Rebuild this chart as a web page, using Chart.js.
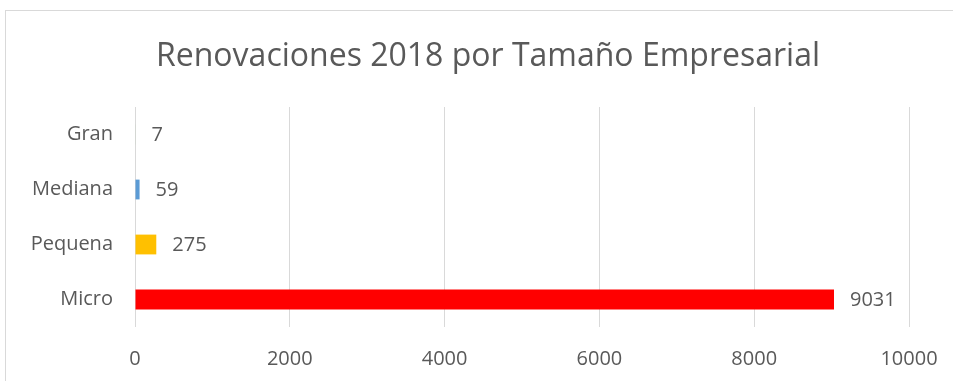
<!DOCTYPE html>
<html>
<head>
<meta charset="utf-8">
<script src="https://cdn.jsdelivr.net/npm/chart.js@4"></script>
<style>
  html, body { margin: 0; padding: 0; background: #fff; }
  #wrap { position: relative; width: 953px; height: 381px; overflow: hidden; }
  #frame { position: absolute; left: 5px; top: 10px; width: 960px; height: 400px; border: 1px solid #d9d9d9; box-sizing: border-box; }
  canvas { position: absolute; left: 0; top: 0; }
</style>
</head>
<body>
<div id="wrap">
  <div id="frame"></div>
  <canvas id="chart" width="953" height="381"></canvas>
</div>
<script>
// datos
const categorias = ['Gran', 'Mediana', 'Pequena', 'Micro'];
const renovaciones = [7, 59, 275, 9031];
const colores = ['#70AD47', '#5B9BD5', '#FFC000', '#FF0000'];
const titulo = 'Renovaciones 2018 por Tamaño Empresarial';

const fuente = "'Open Sans', 'Liberation Sans', sans-serif";
const gris = '#595959';

// titulo centrado sobre el marco completo, no solo sobre el area del grafico
const tituloPlugin = {
  id: 'tituloPlugin',
  afterDraw(chart) {
    const ctx = chart.ctx;
    ctx.save();
    ctx.font = '32px ' + fuente;
    ctx.fillStyle = gris;
    ctx.textAlign = 'center';
    ctx.textBaseline = 'middle';
    ctx.fillText(titulo, 488, 57);
    ctx.restore();
  }
};

// etiquetas de valor al final de cada barra
const etiquetas = {
  id: 'etiquetas',
  afterDatasetsDraw(chart) {
    const ctx = chart.ctx;
    const meta = chart.getDatasetMeta(0);
    ctx.save();
    ctx.font = '20px ' + fuente;
    ctx.fillStyle = gris;
    ctx.textAlign = 'left';
    ctx.textBaseline = 'middle';
    meta.data.forEach((bar, i) => {
      ctx.fillText(String(renovaciones[i]), bar.x + 16, bar.y + 1);
    });
    ctx.restore();
  }
};

new Chart(document.getElementById('chart'), {
  type: 'bar',
  data: {
    labels: categorias,
    datasets: [{
      data: renovaciones,
      backgroundColor: colores,
      barPercentage: 0.36,
      categoryPercentage: 1
    }]
  },
  options: {
    indexAxis: 'y',
    responsive: false,
    animation: false,
    layout: { padding: { left: 0, right: 44, top: 107, bottom: 0 } },
    plugins: {
      legend: { display: false },
      tooltip: { enabled: false },
      title: { display: false }
    },
    scales: {
      x: {
        min: 0,
        max: 10000,
        ticks: {
          stepSize: 2000, color: gris, font: { family: fuente, size: 20 }, padding: 20,
          callback: v => String(v)
        },
        grid: { color: '#d9d9d9', drawTicks: false },
        border: { display: false },
        afterFit(scale) {
          scale.height = 54;
          scale.paddingLeft = 0;
          scale.paddingRight = 0;
        }
      },
      y: {
        ticks: { color: gris, font: { family: fuente, size: 20 }, padding: 22 },
        grid: { display: false, drawTicks: false },
        border: { display: false },
        afterFit(scale) { scale.width = 135; }
      }
    }
  },
  plugins: [etiquetas, tituloPlugin]
});
</script>
</body>
</html>
